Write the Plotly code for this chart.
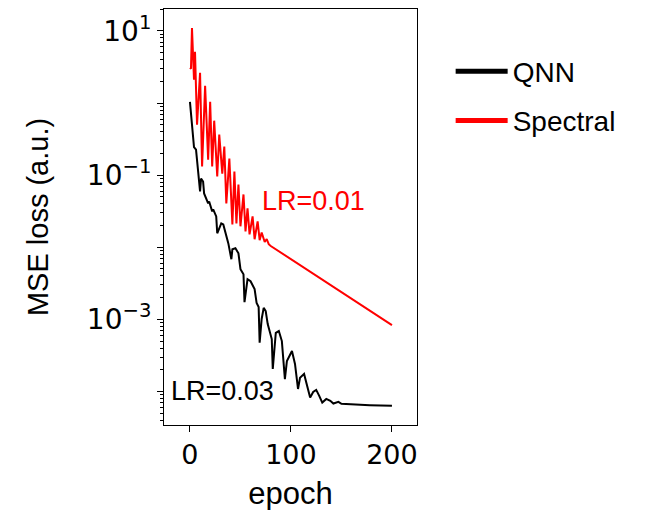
import plotly.graph_objects as go

# ---- data ----
qnn_epoch = [0, 1, 2, 4, 6, 7, 9, 10, 11, 13, 14, 18, 19, 22, 23, 26, 27, 31, 33, 36, 38,
             41, 42, 45, 48, 50, 53, 54, 57, 60, 64, 66, 68, 69, 71, 73, 75, 77, 81, 82,
             85, 88, 91, 94, 96, 101, 104, 107, 109, 113, 116, 119, 122, 125, 128, 131,
             135, 139, 142, 147, 150, 155, 165, 178, 200]
qnn_loss = [1.04, 0.76, 0.47, 0.245, 0.225, 0.154, 0.0957, 0.0593, 0.0897, 0.0816, 0.0557,
            0.0405, 0.0431, 0.0314, 0.0334, 0.0267, 0.0156, 0.0214, 0.0207, 0.0142, 0.0113,
            0.00681, 0.00936, 0.00966, 0.00824, 0.00495, 0.00422, 0.00173, 0.0036, 0.00337,
            0.00262, 0.00168, 0.00148, 0.000473, 0.00101, 0.00144, 0.0013, 0.000859,
            0.000532, 0.000205, 0.00065, 0.000687, 0.000499, 0.000148, 0.000264, 0.000363,
            0.00024, 0.000108, 0.000155, 0.000175, 0.000119, 8.2e-5, 9.84e-5, 0.000105,
            8.67e-5, 7.0e-5, 7.87e-5, 7.39e-5, 6.78e-5, 7.16e-5, 6.72e-5, 6.65e-5, 6.5e-5,
            6.44e-5, 6.3e-5]

spec_epoch = [0, 1, 2, 4, 5, 7, 10, 12, 15, 18, 20, 22, 24, 27, 29, 32, 34, 36, 39, 42,
              44, 46, 48, 50, 53, 55, 57, 59, 62, 64, 67, 69, 71, 74, 76, 78, 80, 100, 125,
              150, 175, 200]
spec_loss = [3.08, 3.0, 11.0, 2.1, 5.12, 0.501, 2.62, 0.132, 1.73, 0.164, 1.04, 0.132,
             0.569, 0.0957, 0.364, 0.105, 0.249, 0.0405, 0.17, 0.0207, 0.112, 0.0214,
             0.0741, 0.0195, 0.0539, 0.0166, 0.0345, 0.0151, 0.0267, 0.0129, 0.0228,
             0.0125, 0.016, 0.0118, 0.013, 0.011, 0.0104, 0.00683, 0.00404, 0.00238,
             0.00141, 0.000832]

x_ticks = [0, 100, 200]
y_tickvals = [10, 1, 0.1, 0.01, 0.001, 0.0001]
y_ticktext = ["10<sup>1</sup>", "", "10<sup>\u22121</sup>", "", "10<sup>\u22123</sup>", ""]

series_names = ["QNN", "Spectral"]
series_colors = ["black", "#ff0000"]

fig = go.Figure()
fig.add_trace(go.Scatter(x=qnn_epoch, y=qnn_loss, mode="lines",
                         line=dict(color=series_colors[0], width=2), showlegend=False))
fig.add_trace(go.Scatter(x=spec_epoch, y=spec_loss, mode="lines",
                         line=dict(color=series_colors[1], width=2), showlegend=False))
# legend entries with thicker line samples
for name, col in zip(series_names, series_colors):
    fig.add_trace(go.Scatter(x=[None], y=[None], mode="lines", name=name,
                             legendgroup=name, line=dict(color=col, width=5)))

fig.add_annotation(x=122, y=-1.365, xref="x", yref="y", text="LR=0.01", showarrow=False,
                   font=dict(family="Liberation Sans, Arial", size=27, color="#ff0000"))
fig.add_annotation(x=32, y=-4.0, xref="x", yref="y", text="LR=0.03", showarrow=False,
                   font=dict(family="Liberation Sans, Arial", size=27, color="black"))

fig.update_layout(
    width=640, height=503,
    margin=dict(l=156, r=231, t=1, b=86),
    paper_bgcolor="white", plot_bgcolor="white",
    legend=dict(x=1.133, y=0.91, xanchor="left", yanchor="top",
                font=dict(family="Liberation Sans, Arial", size=28, color="black"),
                tracegroupgap=10, traceorder="grouped", itemwidth=52,
                bgcolor="rgba(0,0,0,0)"),
)
fig.update_xaxes(
    range=[-25.7, 224.8], tickvals=x_ticks, ticks="outside", ticklen=6, tickwidth=1,
    tickcolor="black", showline=True, linecolor="black", linewidth=1, mirror=True,
    showgrid=False, zeroline=False, automargin=False,
    tickfont=dict(family="DejaVu Sans", size=27, color="black"),
    title=dict(text="epoch", standoff=12,
               font=dict(family="Liberation Sans, Arial", size=31, color="black")),
)
fig.update_yaxes(
    type="log", range=[-4.466, 1.304], tickmode="array", tickvals=y_tickvals,
    ticktext=y_ticktext, ticks="outside", ticklen=6, tickwidth=1, tickcolor="black",
    showline=True, linecolor="black", linewidth=1, mirror=True, showgrid=False,
    zeroline=False, automargin=False,
    minor=dict(ticks="outside", ticklen=3, tickcolor="black", dtick="D1", showgrid=False),
    tickfont=dict(family="DejaVu Sans", size=28, color="black"),
    title=dict(text="MSE loss (a.u.)", standoff=29,
               font=dict(family="Liberation Sans, Arial", size=29, color="black")),
)

fig.write_html("out.html")
